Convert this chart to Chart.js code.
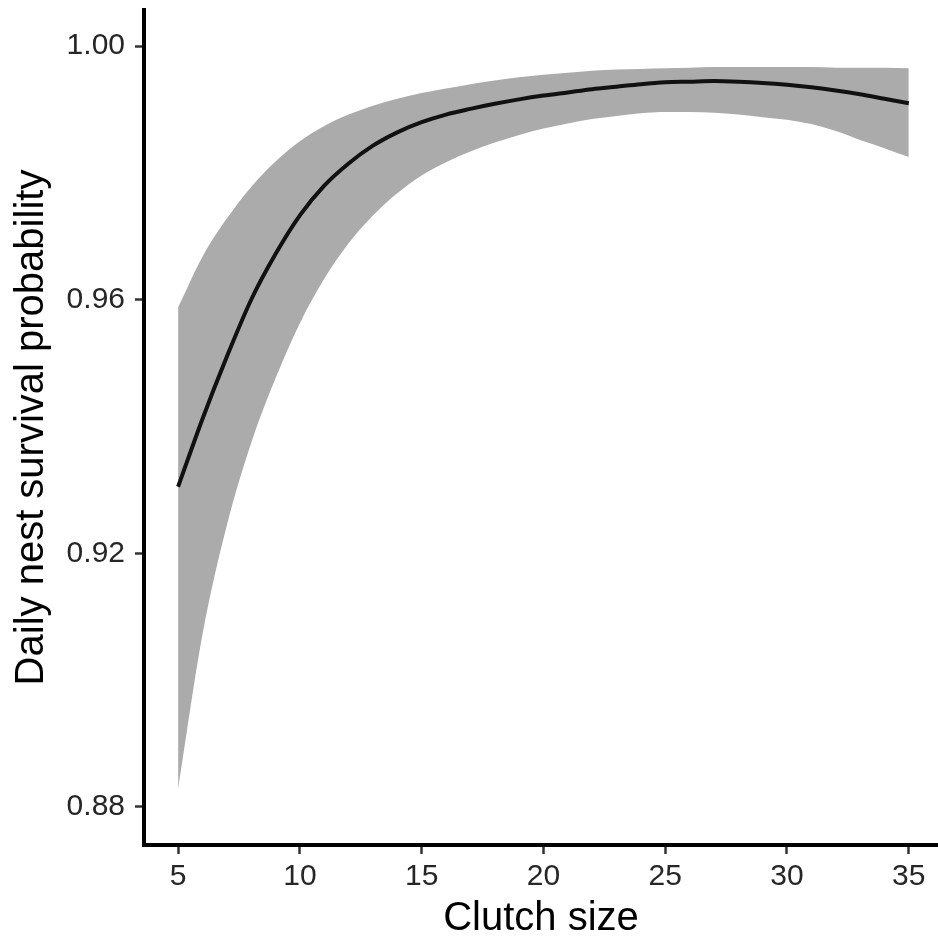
<!DOCTYPE html>
<html>
<head>
<meta charset="utf-8">
<script src="https://cdn.jsdelivr.net/npm/chart.js@4"></script>
<style>
  html, body { margin: 0; padding: 0; background: #fff; }
  #wrap { width: 938px; height: 941px; }
</style>
</head>
<body>
<div id="wrap"><canvas id="chart"></canvas></div>
<script>
const clutchSize = [5, 6, 7, 8, 9, 10, 11, 12, 13, 14, 15, 16, 17, 18, 19, 20,
    21, 22, 23, 24, 25, 26, 27, 28, 29, 30, 31, 32, 33, 34, 35];
const survival = [0.9305, 0.9412, 0.9510, 0.9600, 0.9672, 0.9733, 0.9780, 0.9815, 0.9843, 0.9864,
    0.9880, 0.9892, 0.9901, 0.9909, 0.9916, 0.9922, 0.9927, 0.9932, 0.9936, 0.9940,
    0.9943, 0.9944, 0.9945, 0.9944, 0.9942, 0.9939, 0.9935, 0.9930, 0.9924, 0.9917, 0.9910];
const upperCI = [0.9588, 0.9668, 0.9728, 0.9778, 0.9818, 0.9850, 0.9874, 0.9892, 0.9906, 0.9917,
    0.9926, 0.9933, 0.9940, 0.9946, 0.9951, 0.9955, 0.9958, 0.9961, 0.9963, 0.9964,
    0.9965, 0.9966, 0.9967, 0.9967, 0.9967, 0.9967, 0.9967, 0.9966, 0.9966, 0.9966, 0.9965];
const lowerCI = [0.8828, 0.9072, 0.9244, 0.9374, 0.9476, 0.9563, 0.9633, 0.9689, 0.9733, 0.9768,
    0.9796, 0.9817, 0.9834, 0.9848, 0.9860, 0.9870, 0.9878, 0.9885, 0.9890, 0.9894,
    0.9896, 0.9896, 0.9895, 0.9892, 0.9888, 0.9884, 0.9877, 0.9866, 0.9852, 0.9839, 0.9825];
const xTicks = [5, 10, 15, 20, 25, 30, 35];
const yTicks = [0.88, 0.92, 0.96, 1.00];

const toPoints = (ys) => clutchSize.map((x, i) => ({ x: x, y: ys[i] }));

const fontFamily = '"Liberation Sans", Arial, Helvetica, sans-serif';

// no extra room for tick labels near the plot edges
const noOverhang = (scale) => {
    scale.paddingTop = 0;
    scale.paddingBottom = 0;
    scale.paddingLeft = 0;
    scale.paddingRight = 0;
};

const ctx = document.getElementById('chart').getContext('2d');
new Chart(ctx, {
    type: 'line',
    data: {
        datasets: [
            {
                label: 'upper',
                data: toPoints(upperCI),
                borderWidth: 0,
                pointRadius: 0,
                backgroundColor: '#ababab',
                fill: '+1',
                cubicInterpolationMode: 'monotone',
                order: 2
            },
            {
                label: 'lower',
                data: toPoints(lowerCI),
                borderWidth: 0,
                pointRadius: 0,
                backgroundColor: '#ababab',
                fill: false,
                cubicInterpolationMode: 'monotone',
                order: 2
            },
            {
                label: 'Daily nest survival probability',
                data: toPoints(survival),
                borderColor: '#111111',
                borderWidth: 4,
                pointRadius: 0,
                fill: false,
                cubicInterpolationMode: 'monotone',
                order: 1
            }
        ]
    },
    options: {
        responsive: true,
        maintainAspectRatio: false,
        animation: false,
        layout: { padding: { top: 10, right: 0, left: 0, bottom: 0 } },
        plugins: {
            legend: { display: false },
            tooltip: { enabled: false }
        },
        scales: {
            x: {
                type: 'linear',
                min: 3.6,
                max: 36.2,
                afterBuildTicks: (scale) => {
                    scale.ticks = xTicks.map(v => ({ value: v }));
                },
                afterFit: (scale) => {
                    scale.height = 96;
                    noOverhang(scale);
                },
                border: { display: true, color: '#000', width: 4 },
                grid: {
                    drawOnChartArea: false,
                    drawTicks: true,
                    tickLength: 9,
                    tickColor: '#333',
                    tickWidth: 2.5
                },
                ticks: {
                    color: '#262626',
                    padding: 5,
                    font: { family: fontFamily, size: 30 },
                    callback: (v) => String(v)
                },
                title: {
                    display: true,
                    text: 'Clutch size',
                    color: '#000',
                    font: { family: fontFamily, size: 40, lineHeight: 1.1 },
                    padding: { top: 0, bottom: 0 }
                }
            },
            y: {
                type: 'linear',
                min: 0.874,
                max: 1.0057,
                afterBuildTicks: (scale) => {
                    scale.ticks = yTicks.map(v => ({ value: v }));
                },
                afterFit: (scale) => {
                    scale.width = 144;
                    noOverhang(scale);
                },
                border: { display: true, color: '#000', width: 4 },
                grid: {
                    drawOnChartArea: false,
                    drawTicks: true,
                    tickLength: 9,
                    tickColor: '#333',
                    tickWidth: 2.5
                },
                ticks: {
                    color: '#262626',
                    padding: 10,
                    font: { family: fontFamily, size: 30 },
                    callback: (v) => Number(v).toFixed(2)
                },
                title: {
                    display: true,
                    text: 'Daily nest survival probability',
                    color: '#000',
                    font: { family: fontFamily, size: 40, lineHeight: 1.2 },
                    padding: { top: 8, bottom: 0 }
                }
            }
        }
    }
});
</script>
</body>
</html>
